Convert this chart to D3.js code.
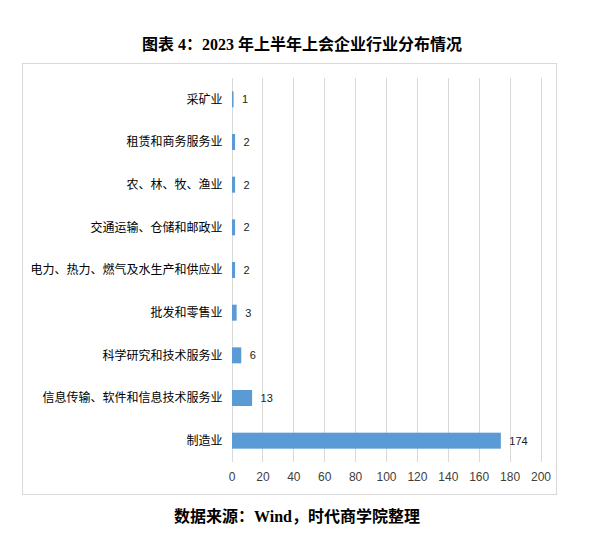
<!DOCTYPE html>
<html>
<head>
<meta charset="utf-8">
<script src="https://cdn.jsdelivr.net/npm/d3@7"></script>
<style>
  body { margin: 0; background: #fff; }
  .title, .source { font-family: 'Liberation Serif', 'Noto Sans CJK SC', serif; font-weight: bold; font-size: 16px; fill: #000; }
  .cat { font-family: 'Noto Sans CJK SC', sans-serif; font-size: 12px; fill: #000; }
  .tick text { font-family: 'Liberation Sans', 'Noto Sans', sans-serif; font-size: 12px; fill: #404040; }
  .val { font-family: 'Liberation Sans', 'Noto Sans', sans-serif; font-size: 11px; fill: #222; }
</style>
</head>
<body>
<div class="chart"></div>
<script>
const industries = [
  '采矿业',
  '租赁和商务服务业',
  '农、林、牧、渔业',
  '交通运输、仓储和邮政业',
  '电力、热力、燃气及水生产和供应业',
  '批发和零售业',
  '科学研究和技术服务业',
  '信息传输、软件和信息技术服务业',
  '制造业',
];
const counts = [1, 2, 2, 2, 2, 3, 6, 13, 174];
const xTicks = [0, 20, 40, 60, 80, 100, 120, 140, 160, 180, 200];

const W = 593;
const H = 547;
const plot = { left: 231.5, right: 540.5, top: 78, bottom: 462 };

const svg = d3
  .select('.chart')
  .append('svg')
  .attr('width', W)
  .attr('height', H);

svg
  .append('text')
  .attr('class', 'title')
  .attr('x', 302)
  .attr('y', 50)
  .attr('text-anchor', 'middle')
  .text('图表 4：2023 年上半年上会企业行业分布情况');

// outer frame
svg
  .append('rect')
  .attr('x', 22.5)
  .attr('y', 63.5)
  .attr('width', 534)
  .attr('height', 431)
  .attr('fill', 'none')
  .attr('stroke', '#d9d9d9');

const x = d3.scaleLinear().domain([0, 200]).range([plot.left, plot.right]);
const y = d3
  .scaleBand()
  .domain(industries)
  .range([plot.top, plot.bottom])
  .paddingInner(0.625)
  .paddingOuter(0.3125);

// gridlines
svg
  .append('g')
  .selectAll('line')
  .data(xTicks)
  .enter()
  .append('line')
  .attr('x1', (d) => Math.round(x(d)) + 0.5)
  .attr('x2', (d) => Math.round(x(d)) + 0.5)
  .attr('y1', plot.top)
  .attr('y2', plot.bottom)
  .attr('stroke', '#d9d9d9');

const xAxis = d3.axisBottom(x).tickValues(xTicks).tickSize(0).tickPadding(10);
svg
  .append('g')
  .attr('transform', `translate(0, ${plot.bottom})`)
  .call(xAxis)
  .call((g) => g.select('.domain').remove());

svg
  .append('g')
  .selectAll('text')
  .data(industries)
  .enter()
  .append('text')
  .attr('class', 'cat')
  .attr('x', plot.left - 9)
  .attr('y', (d) => y(d) + y.bandwidth() / 2)
  .attr('dy', '0.36em')
  .attr('text-anchor', 'end')
  .text((d) => d);

svg
  .append('g')
  .selectAll('rect')
  .data(counts)
  .enter()
  .append('rect')
  .attr('x', x(0) + 0.5)
  .attr('y', (d, i) => y(industries[i]))
  .attr('width', (d) => x(d) - x(0))
  .attr('height', y.bandwidth())
  .attr('fill', '#5b9bd5');

svg
  .append('g')
  .selectAll('text')
  .data(counts)
  .enter()
  .append('text')
  .attr('class', 'val')
  .attr('x', (d) => x(d) + 9)
  .attr('y', (d, i) => y(industries[i]) + y.bandwidth() / 2)
  .attr('dy', '0.36em')
  .text((d) => d);

svg
  .append('text')
  .attr('class', 'source')
  .attr('x', 297)
  .attr('y', 522)
  .attr('text-anchor', 'middle')
  .text('数据来源：Wind，时代商学院整理');
</script>
</body>
</html>
